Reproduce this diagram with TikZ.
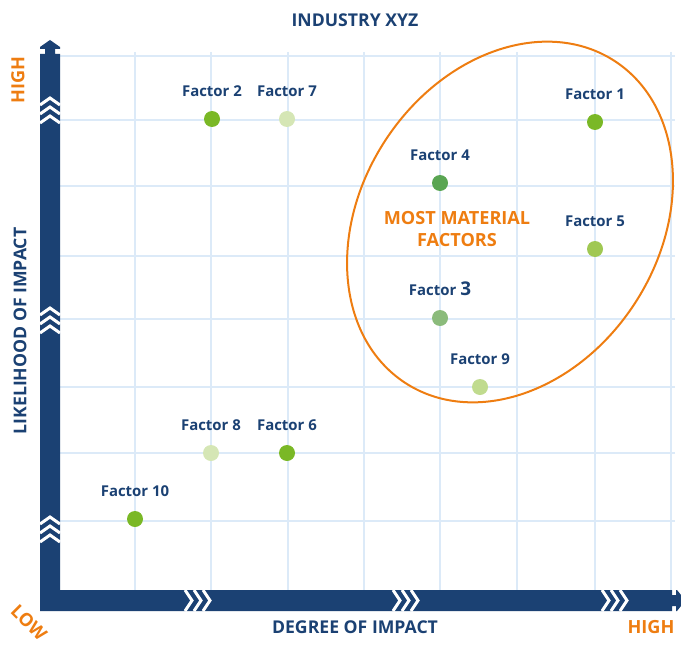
\documentclass[tikz,border=0pt]{standalone}
\usepackage{fontspec}
\setmainfont{Open Sans}
\usetikzlibrary{positioning}
\definecolor{navy}{HTML}{1B4173}
\definecolor{tangerine}{HTML}{EE7D11}
\definecolor{gridblue}{HTML}{DCEAF8}
\definecolor{leaf}{HTML}{7AB826}
\definecolor{pale}{HTML}{D5E6B5}
\definecolor{forest}{HTML}{59A552}
\definecolor{lime}{HTML}{A0C853}
\definecolor{sage}{HTML}{8BBB7B}
\definecolor{mint}{HTML}{C0DB8E}
\begin{document}
\begin{tikzpicture}[x=1bp,y=-1bp,
	gridline/.style={gridblue,line width=2.5bp},
	chev/.style={white,line width=3bp},
	dot/.style={circle,inner sep=0pt,minimum size=16bp},
	flabel/.style={font=\bfseries\fontsize{15}{15}\selectfont,text=navy,inner sep=0pt},
	axlabel/.style={font=\bfseries\fontsize{17.7}{17.7}\selectfont,text=navy,inner sep=0pt},
	hilo/.style={font=\bfseries\fontsize{18.2}{18.2}\selectfont,text=tangerine,inner sep=0pt}]
	\useasboundingbox (0,0) rectangle (681,657);
	%grid
	\foreach \x in {135,211,288,364,440,517,595,671}
	\draw[gridline] (\x,52) -- (\x,590);
	\foreach \y in {56,120,186,256,319,387,453,521}
	\draw[gridline] (60,\y) -- (675,\y);
	%axes
	\fill[navy] (40,611) -- (40,54) -- (45,54) -- (45,49) -- (40,49) -- (40,47) -- (50,40)
	-- (60,47) -- (60,49) -- (55,49) -- (55,54) -- (60,54) -- (60,590) -- (672,590)
	-- (672,595) -- (676,595) -- (676,590) -- (677,590) -- (681,595) -- (681,606)
	-- (677,611) -- (676,611) -- (676,606) -- (672,606) -- (672,611) -- cycle;
	\foreach \y in {98,308,517} \foreach \k in {0,1,2}
	\draw[chev] (40,\y+9*\k+7) -- (50,\y+9*\k) -- (60,\y+9*\k+7);
	\foreach \x in {192,400,609} \foreach \k in {0,1,2}
	\draw[chev] (\x+9*\k-7,590) -- (\x+9*\k,600.5) -- (\x+9*\k-7,611);
	%most material
	\draw[tangerine,line width=2bp,rotate around={-33:(510,222)}] (510,222) ellipse [x radius=149,y radius=192];
	\node[hilo,align=center] (most) at (457,229) {MOST MATERIAL\\[4bp]FACTORS};
	%factors
	\foreach \n/\x/\y/\c/\t in {1/595/122/leaf/1, 2/212/119/leaf/2, 7/287/119/pale/7,
		4/440/183/forest/4, 5/595/249/lime/5, 3/440/318/sage/{\fontsize{19}{19}\selectfont 3},
		9/480/387/mint/9, 8/211/453/pale/8, 6/287/453/leaf/6, 10/135/519/leaf/10}
	{\node[dot,fill=\c] (f\n) at (\x,\y) {};
		\node[flabel,above=14bp of f\n] (l\n) {Factor \t};}
	%axis labels
	\node[axlabel] (title) at (355,20) {INDUSTRY XYZ};
	\node[axlabel] (xlab) at (355,627) {DEGREE OF IMPACT};
	\node[axlabel,rotate=90] (ylab) at (20,331) {LIKELIHOOD OF IMPACT};
	\node[hilo] (xhigh) at (651,627) {HIGH};
	\node[hilo,rotate=90] (yhigh) at (18,80) {HIGH};
	\node[hilo,rotate=-45] (low) at (29,623) {LOW};
\end{tikzpicture}
\end{document}
